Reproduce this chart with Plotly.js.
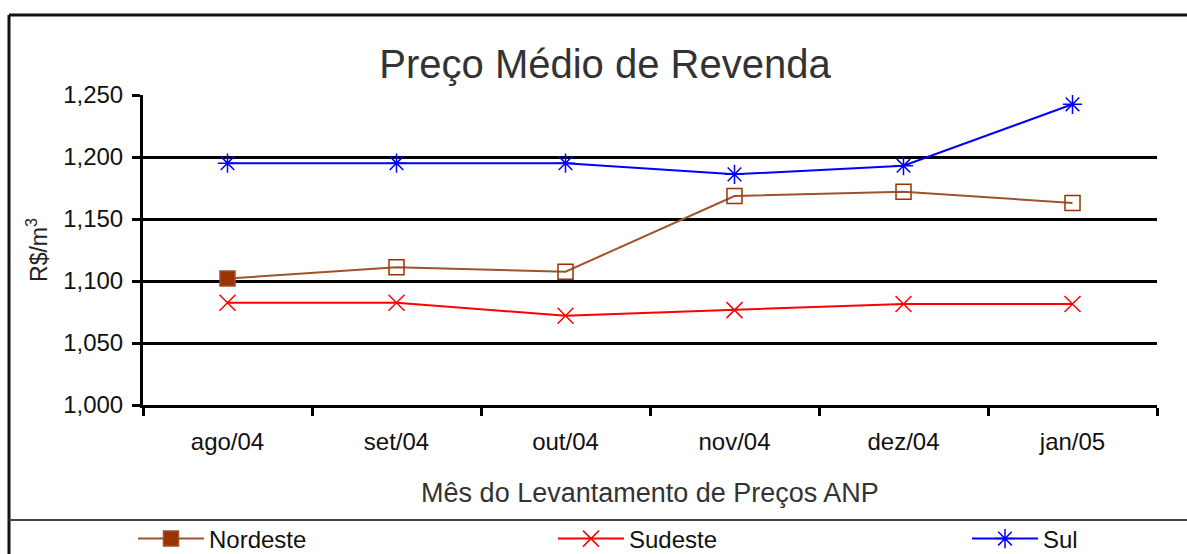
<!DOCTYPE html>
<html>
<head>
<meta charset="utf-8">
<script src="https://cdn.plot.ly/plotly-3.0.1.min.js"></script>
<style>html,body{margin:0;padding:0;background:#fff;}#chart{width:1187px;height:554px;}</style>
</head>
<body>
<div id="chart"></div>
<script>
const months = ["ago/04", "set/04", "out/04", "nov/04", "dez/04", "jan/05"];
const nordeste = [1102, 1111, 1107.5, 1168.5, 1172, 1163];
const sudeste = [1082.5, 1082.5, 1072, 1076.5, 1081.5, 1081.5];
const sul = [1195, 1195, 1195, 1186, 1193, 1242.5];
const yTicks = [1000, 1050, 1100, 1150, 1200, 1250];

const FONT = "Liberation Sans, Arial, sans-serif";

const traces = [
  {
    x: months, y: nordeste, name: "Nordeste", type: "scatter", mode: "lines+markers", legend: "legend",
    line: {color: "#A0522D", width: 2},
    marker: {symbol: ["square", "square-open", "square-open", "square-open", "square-open", "square-open"],
             size: 15, color: "#993300", line: {color: "#A0522D", width: 1.5}}
  },
  {
    x: months, y: sudeste, name: "Sudeste", type: "scatter", mode: "lines+markers", legend: "legend2",
    line: {color: "#FF0000", width: 2},
    marker: {symbol: "x-thin-open", size: 16, color: "#FF0000", line: {color: "#FF0000", width: 1.5}}
  },
  {
    x: months, y: sul, name: "Sul", type: "scatter", mode: "lines+markers", legend: "legend3",
    line: {color: "#0000FF", width: 2},
    marker: {symbol: "asterisk-open", size: 16, color: "#0000FF", line: {color: "#0000FF", width: 1.5}}
  }
];

// plot area in pixels: x 143..1157, y 95..405
const L = 143, R = 1157, T = 95, B = 405;
const px = v => (v - L) / (R - L);
const py = v => (B - v) / (B - T);

function legendAt(xpix) {
  return {
    orientation: "h", x: px(xpix), xanchor: "left", y: py(539), yanchor: "middle",
    font: {family: FONT, size: 24, color: "#111"}, itemwidth: 66,
    bgcolor: "rgba(0,0,0,0)"
  };
}

const layout = {
  width: 1187, height: 554,
  margin: {l: L, r: 1187 - R, t: T, b: 554 - B, pad: 0, autoexpand: false},
  paper_bgcolor: "#ffffff", plot_bgcolor: "#ffffff",
  font: {family: FONT, color: "#000", size: 24},
  title: {text: "Preço Médio de Revenda", font: {family: FONT, size: 40, color: "#333333"},
          x: 605 / 1187, xanchor: "center", xref: "container", y: 1 - 64 / 554, yanchor: "middle", yref: "container"},
  xaxis: {
    type: "category", range: [-0.5, 5.5], tickson: "boundaries",
    ticks: "outside", ticklen: 8, tickwidth: 3, tickcolor: "#000",
    showline: true, linecolor: "#000", linewidth: 3, showgrid: false, zeroline: false,
    tickfont: {family: FONT, size: 24, color: "#111"}, ticklabelstandoff: 13,
    title: {text: "Mês do Levantamento de Preços ANP", font: {family: FONT, size: 27, color: "#333333"}, standoff: 30}
  },
  yaxis: {
    range: [1000, 1250], tickvals: yTicks, tickformat: ",d",
    ticks: "outside", ticklen: 8, tickwidth: 3, tickcolor: "#000",
    showline: true, linecolor: "#000", linewidth: 3, showgrid: true, gridcolor: "#000", gridwidth: 3, zeroline: false,
    tickfont: {family: FONT, size: 24, color: "#111"}, ticklabelstandoff: 4,
    title: {text: "R$/m<sup>3</sup>", font: {family: FONT, size: 23, color: "#222"}, standoff: 10}
  },
  showlegend: true,
  legend: legendAt(133),
  legend2: legendAt(553),
  legend3: legendAt(967),
  shapes: [
    {type: "line", xref: "paper", yref: "paper", x0: px(9), x1: px(1195), y0: py(15), y1: py(15), line: {color: "#111", width: 3}},
    {type: "line", xref: "paper", yref: "paper", x0: px(9), x1: px(9), y0: py(15), y1: py(560), line: {color: "#111", width: 3}},
    {type: "line", xref: "paper", yref: "paper", x0: px(9), x1: px(1195), y0: py(520), y1: py(520), line: {color: "#444", width: 2}}
  ]
};

Plotly.newPlot("chart", traces, layout, {displayModeBar: false, staticPlot: true});
</script>
</body>
</html>
